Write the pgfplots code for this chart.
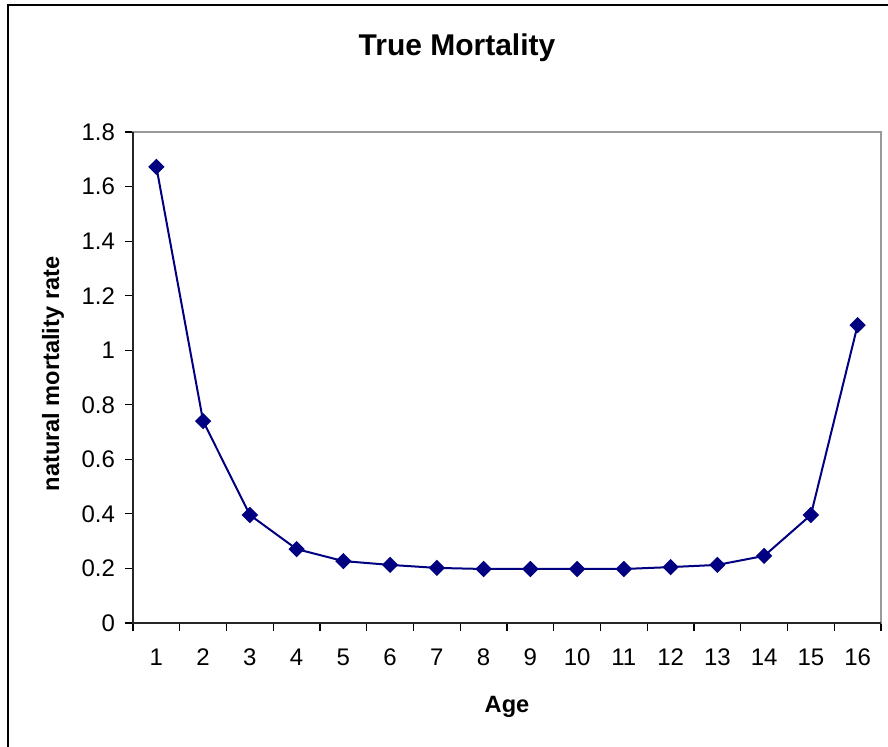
\documentclass[border=0pt]{standalone}
\usepackage{pgfplots}
\pgfplotsset{compat=1.18}
\usepackage{fontspec}
\setmainfont{Liberation Sans}
\definecolor{navy}{RGB}{0,0,128}
\begin{document}
\begin{tikzpicture}
\path[use as bounding box] (0,0) rectangle (444pt,373pt);
\begin{scope}
\clip (0,0) rectangle (444pt,373pt);
\draw[line width=0.8pt] (4pt,-10pt) -- (4pt,370.5pt) -- (460pt,370.5pt);
\end{scope}
\begin{axis}[
  at={(66.5pt,61.5pt)}, anchor=south west,
  scale only axis, width=374pt, height=245.5pt,
  xmin=0.5, xmax=16.5, ymin=0, ymax=1.8,
  xtick={1,...,16},
  minor xtick={0.5,1.5,...,16.5},
  ytick={0,0.2,0.4,0.6,0.8,1,1.2,1.4,1.6,1.8},
  xtick pos=bottom, ytick pos=left,
  tick align=outside,
  major tick length=4pt, minor tick length=4pt,
  every major x tick/.append style={draw=none},
  tick style={black, line width=0.6pt},
  axis line style={draw=gray!80, line width=0.6pt},
  /pgf/number format/assume math mode=true,
  ticklabel style={font=\fontsize{12}{14}\selectfont},
  xticklabel shift=5.5pt,
  yticklabel shift=1.5pt,
  clip=false,
  after end axis/.code={
    \draw[black!85, line width=0.8pt] (rel axis cs:0,1) -- (rel axis cs:0,0) -- (rel axis cs:1,0);
  },
]
\addplot[navy, line width=1pt, mark=square*, mark size=2.4pt, mark options={rotate=45, fill=navy, solid}]
coordinates {
(1,1.672) (2,0.740) (3,0.396) (4,0.271) (5,0.227) (6,0.213) (7,0.202) (8,0.198)
(9,0.198) (10,0.198) (11,0.198) (12,0.205) (13,0.213) (14,0.246) (15,0.396) (16,1.092)
};
\end{axis}
\node[anchor=base, font=\fontsize{15}{17}\selectfont\bfseries] at (228.5pt,345pt) {True Mortality};
\node[anchor=base, font=\fontsize{11.8}{13}\selectfont\bfseries] at (253.5pt,17pt) {Age};
\node[rotate=90, font=\fontsize{11.8}{13}\selectfont\bfseries] at (26.5pt,186pt) {natural mortality rate};
\end{tikzpicture}
\end{document}
